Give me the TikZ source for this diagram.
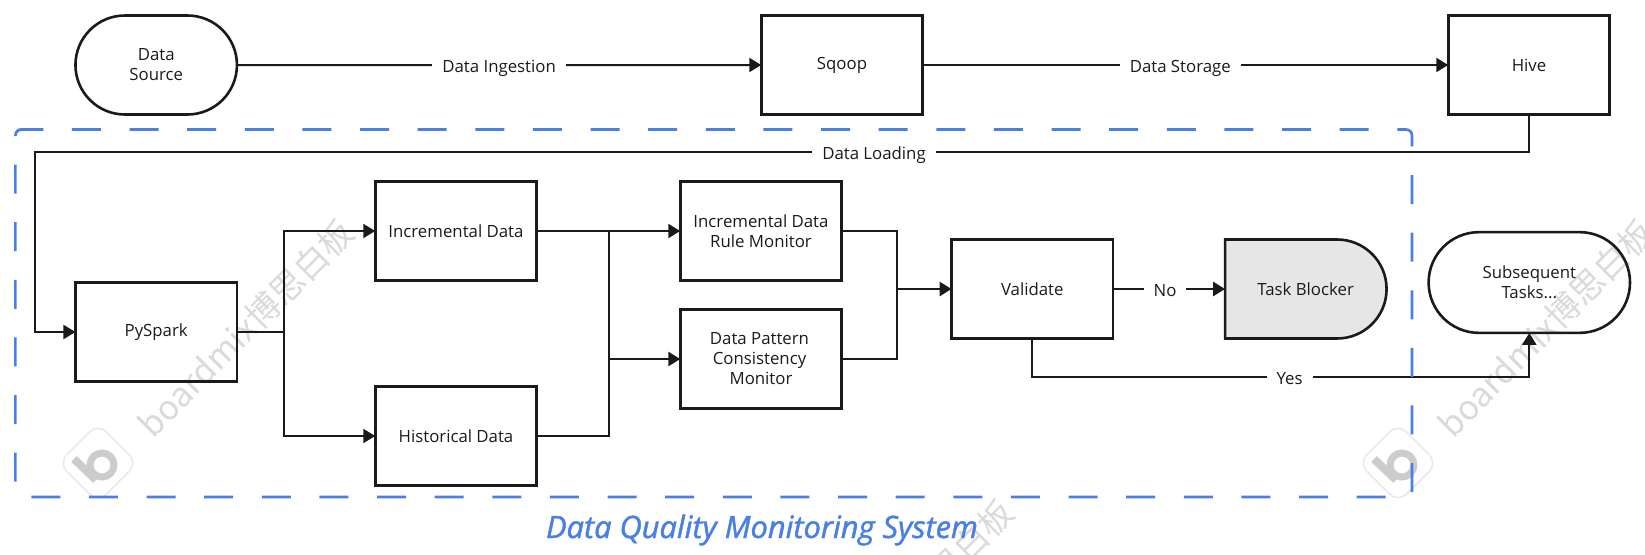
\documentclass[tikz,border=0pt]{standalone}
\usepackage{fontspec}
\setmainfont{Open Sans}
\newfontfamily\wmfont{Noto Sans CJK SC}
\newfontfamily\titlefont[ItalicFeatures={FakeBold=1.5}]{Open Sans}
\usetikzlibrary{arrows.meta}
\usetikzlibrary{shapes.misc}

\definecolor{inkblack}{HTML}{1A1A1A}
\definecolor{dqmblue}{HTML}{4A7FE6}
\definecolor{blockergray}{HTML}{E6E6E6}
\definecolor{wmgray}{HTML}{DADADA}

\begin{document}
\begin{tikzpicture}[
				x=1pt,
				y=-1pt,
				line join=miter,
				every node/.style={font=\fontsize{16.8}{20}\selectfont, text=inkblack, align=center, inner sep=0pt, outer sep=0pt},
				taskbox/.style={draw=inkblack, line width=2.6pt, minimum width=161.5pt, minimum height=99pt},
				termbox/.style={taskbox, rounded rectangle},
				blockerbox/.style={taskbox, rounded rectangle, rounded rectangle left arc=none, fill=blockergray},
				wire/.style={draw=inkblack, line width=2pt},
				trunk/.style={draw=inkblack, line width=2.7pt},
				tip/.style={-{Triangle[length=12pt,width=14pt]}},
				flowlabel/.style={fill=white, inner xsep=10pt, inner ysep=2pt, text height=15pt, text depth=0pt},
				dqmborder/.style={draw=dqmblue, line width=2.6pt, rounded corners=6pt}
				]
				\useasboundingbox (0,0) rectangle (1645,554);
				
				% Watermark
				\begin{scope}
					\clip (0,0) rectangle (1645,554);
					\foreach \dx/\dy in {0/0, 1300/0, 660/280} {
						\begin{scope}[shift={(\dx,\dy)}]
							\node[font=\wmfont\fontsize{34}{34}\selectfont, text=wmgray, rotate=45, anchor=west] (wmtext) at (144,430) {boardmix博思白板};
							\draw[wmgray!60, line width=1.6pt, rounded corners=12pt, rotate around={45:(98,463)}] (70,435) rectangle (126,491);
							\draw[gray!40, line width=7pt] (102,465) circle (12);
							\draw[gray!40, line width=8pt] (74,459) -- (96,480);
						\end{scope}
					}
				\end{scope}
				
				% Top row
				\node[termbox] (dsource) at (156.2,65) {Data\\Source};
				\node[taskbox] (sqoop) at (842,65) {Sqoop};
				\node[taskbox] (hive) at (1529,65) {Hive};
				
				% Monitoring boxes
				\node[taskbox] (pyspark) at (156.2,332) {PySpark};
				\node[taskbox] (incdata) at (456,231) {Incremental Data};
				\node[taskbox] (histdata) at (456,436) {Historical Data};
				\node[taskbox] (rulemon) at (761,231) {Incremental Data\\Rule Monitor};
				\node[taskbox] (patternmon) at (761,359) {\hspace*{-3pt}Data Pattern\\\hspace*{-3pt}Consistency\\Monitor};
				\node[taskbox] (validate) at (1032.3,289) {Validate};
				\node[blockerbox] (blocker) at (1305.6,289) {Task Blocker};
				\node[termbox, minimum width=201.4pt, minimum height=100.7pt] (subseq) at (1529.3,282.5) {Subsequent\\Tasks...};
				
				% Junctions
				\coordinate (splitpy) at (284.2,332);
				\coordinate (mergeinc) at (608.5,231);
				\coordinate (mergehist) at (608.5,436);
				\coordinate (mergepat) at (608.5,359);
				\coordinate (mergeval) at (897,289);
				\coordinate (loadright) at (1529,152.3);
				\coordinate (loadleft) at (34.7,152.3);
				\coordinate (yesbend) at (1529.3,376.7);
				
				% Top connectors
				\draw[wire, tip] (dsource) -- node[flowlabel] (ingestlabel) {Data Ingestion} (sqoop);
				\draw[wire, tip] (sqoop) -- node[flowlabel, pos=0.49] (storelabel) {Data Storage} (hive);
				\draw[wire, tip] (hive.south) -- (loadright) -- (loadleft) |- (pyspark.west);
				\node[flowlabel] (loadlabel) at (874,152.3) {Data Loading};
				
				% Monitoring connectors
				\draw[trunk] (pyspark.east) -- (splitpy);
				\draw[wire, tip] (splitpy) |- (incdata.west);
				\draw[wire, tip] (splitpy) |- (histdata.west);
				\draw[trunk] (incdata.east) -- (mergeinc);
				\draw[wire, tip] (mergeinc) -- (rulemon.west);
				\draw[wire] (mergeinc) -- (mergehist) -- (histdata.east);
				\draw[trunk, tip] (mergepat) -- (patternmon.west);
				\draw[wire] (rulemon.east) -| (mergeval) |- (patternmon.east);
				\draw[trunk, tip] (mergeval) -- (validate.west);
				\draw[trunk, tip] (validate.east) -- (blocker.west);
				\node[flowlabel] (nolabel) at (1165,289) {No};
				\draw[wire, tip] (validate.south) |- (yesbend) -- (subseq.south);
				\node[flowlabel] (yeslabel) at (1289.5,376.7) {Yes};
				
				% System border
				\draw[dqmborder, dash pattern=on 29pt off 28.62pt, dash phase=29pt] (15.4,136) -- (15.4,497) -- (1412,497) -- (1412,129.5) -- (15.4,129.5) -- (15.4,136);
				\draw[dqmborder] (24,129.5) -- (15.4,129.5) -- (15.4,136);
				\node[font=\titlefont\fontsize{30.8}{32}\selectfont\itshape, text=dqmblue] (systemtitle) at (762,530) {Data Quality Monitoring System};
			\end{tikzpicture}
\end{document}
